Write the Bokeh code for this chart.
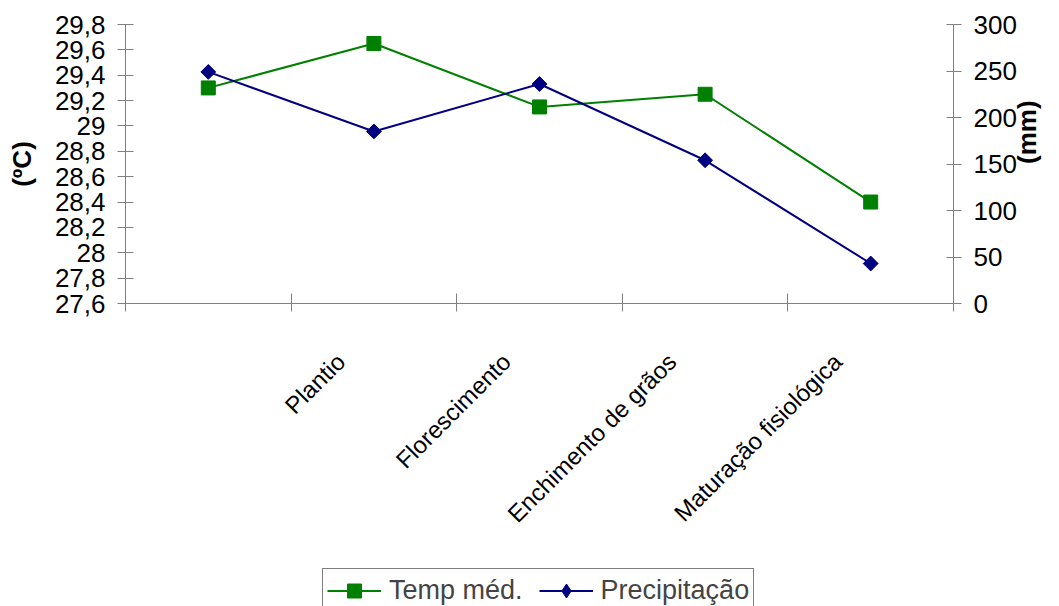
import math
from bokeh.plotting import figure
from bokeh.layouts import column
from bokeh.models import (Range1d, LinearAxis, FixedTicker, Legend, LegendItem,
                          ColumnDataSource)
from bokeh.embed import file_html
from bokeh.resources import INLINE

# ---- data -------------------------------------------------------------
categories = ["", "Plantio", "Florescimento", "Enchimento de grãos", "Maturação fisiológica"]
temp_media = [29.3, 29.65, 29.15, 29.25, 28.4]          # (ºC), left axis
precipitacao = [249, 185, 236, 154, 43]                 # (mm), right axis
temp_ticks = [27.6, 27.8, 28.0, 28.2, 28.4, 28.6, 28.8, 29.0, 29.2, 29.4, 29.6, 29.8]
precip_ticks = [0, 50, 100, 150, 200, 250, 300]
series_names = ["Temp méd.", "Precipitação"]

FONT = "Liberation Sans"
AXIS_COLOR = "#808080"
GREEN = "#008000"
NAVY = "#000080"
W = 1059
H_CHART = 566
H_LEGEND = 40
BORDER_L, BORDER_R, BORDER_T, BORDER_B = 125, 106, 24, 263
FRAME_W = W - BORDER_L - BORDER_R
LABEL_SHIFT_PX = 33          # category labels sit a little left of the centres

n = len(categories)
x_centers = [i + 0.5 for i in range(n)]
x_bounds = [float(i) for i in range(n + 1)]
label_shift = LABEL_SHIFT_PX * n / FRAME_W


def fmt(v):
    s = f"{v:.1f}"
    if s.endswith(".0"):
        s = s[:-2]
    return s.replace(".", ",")


p = figure(width=W, height=H_CHART, output_backend="svg", toolbar_location=None,
           x_range=Range1d(0, n), y_range=Range1d(temp_ticks[0], temp_ticks[-1]),
           x_axis_location=None, y_axis_location=None,
           min_border_left=BORDER_L, min_border_right=BORDER_R,
           min_border_top=BORDER_T, min_border_bottom=BORDER_B,
           outline_line_color=None,
           background_fill_color="white", border_fill_color="white")
p.extra_y_ranges = {"precip": Range1d(precip_ticks[0], precip_ticks[-1])}
p.extra_x_ranges = {"labels": Range1d(label_shift, n + label_shift)}
p.xgrid.visible = False
p.ygrid.visible = False


def style_axis(ax):
    ax.axis_line_color = AXIS_COLOR
    ax.axis_line_width = 1
    ax.major_tick_line_color = AXIS_COLOR
    ax.minor_tick_line_color = AXIS_COLOR
    ax.major_label_text_font = FONT
    ax.major_label_text_color = "black"
    ax.axis_label_text_font = FONT
    ax.axis_label_text_font_style = "bold"
    ax.axis_label_text_color = "black"
    ax.axis_label_text_font_size = "26px"


# bottom axis line with tick marks at the category boundaries
xaxis = LinearAxis(ticker=FixedTicker(ticks=x_bounds),
                   major_label_overrides={b: "" for b in x_bounds},
                   major_tick_in=10, major_tick_out=8, major_label_standoff=0)
style_axis(xaxis)
xaxis.major_label_text_font_size = "1px"
p.add_layout(xaxis, "below")

# category labels (rotated)
xlab = LinearAxis(x_range_name="labels", ticker=FixedTicker(ticks=x_centers),
                  major_label_overrides={c: lab for c, lab in zip(x_centers, categories)},
                  major_label_orientation=math.pi / 4, major_label_standoff=46,
                  major_tick_in=0, major_tick_out=0, axis_line_color=None,
                  major_tick_line_color=None, major_label_text_font=FONT,
                  major_label_text_font_size="24px", major_label_text_color="black")
p.add_layout(xlab, "below")

# left axis (ºC)
yaxis = LinearAxis(ticker=FixedTicker(ticks=temp_ticks),
                   major_label_overrides={t: fmt(t) for t in temp_ticks},
                   axis_label="(ºC)", major_tick_in=8, major_tick_out=8,
                   major_label_standoff=12, axis_label_standoff=15)
style_axis(yaxis)
yaxis.major_label_text_font_size = "26px"
p.add_layout(yaxis, "left")

# right axis (mm)
y2axis = LinearAxis(y_range_name="precip", ticker=FixedTicker(ticks=precip_ticks),
                    major_label_overrides={t: str(t) for t in precip_ticks},
                    axis_label="(mm)", major_tick_in=7, major_tick_out=8,
                    major_label_standoff=12, axis_label_standoff=7,
                    axis_label_orientation=math.pi / 2)
style_axis(y2axis)
y2axis.major_label_text_font_size = "26px"
p.add_layout(y2axis, "right")

src = ColumnDataSource(dict(x=x_centers, temp=temp_media, precip=precipitacao))
p.line("x", "temp", source=src, line_color=GREEN, line_width=2)
p.scatter("x", "temp", source=src, marker="square", size=14,
          fill_color=GREEN, line_color=GREEN)
p.line("x", "precip", source=src, y_range_name="precip",
       line_color=NAVY, line_width=2)
p.scatter("x", "precip", source=src, y_range_name="precip", marker="square",
          angle=math.pi / 4, size=10.5, fill_color=NAVY, line_color=NAVY)

# ---- legend strip below the chart (its renderers fall outside its view) --
lg = figure(width=W, height=H_LEGEND, output_backend="svg", toolbar_location=None,
            x_range=Range1d(0, 1), y_range=Range1d(0, 1),
            x_axis_location=None, y_axis_location=None,
            min_border_left=BORDER_L, min_border_right=BORDER_R, min_border_top=0,
            min_border_bottom=0, outline_line_color=None,
            background_fill_color="white", border_fill_color="white")
lg.xgrid.visible = False
lg.ygrid.visible = False
k1 = lg.line("x", "temp", source=src, line_color=GREEN, line_width=2)
s1 = lg.scatter("x", "temp", source=src, marker="square", size=14,
                fill_color=GREEN, line_color=GREEN)
k2 = lg.line("x", "precip", source=src, line_color=NAVY, line_width=2)
s2 = lg.scatter("x", "precip", source=src, marker="diamond",
                size=14, fill_color=NAVY, line_color=NAVY)

legend = Legend(items=[LegendItem(label=series_names[0], renderers=[k1, s1]),
                       LegendItem(label=series_names[1], renderers=[k2, s2])],
                location=(197, -7), orientation="horizontal",
                border_line_color="black", border_line_width=1,
                background_fill_color="white", background_fill_alpha=1,
                label_text_font=FONT, label_text_font_size="27px",
                glyph_width=54, glyph_height=35, label_height=26,
                label_standoff=8, spacing=16, padding=4, margin=0)
lg.add_layout(legend, "center")

layout = column(p, lg, spacing=0)
open("out.html", "w").write(file_html(layout, INLINE))
